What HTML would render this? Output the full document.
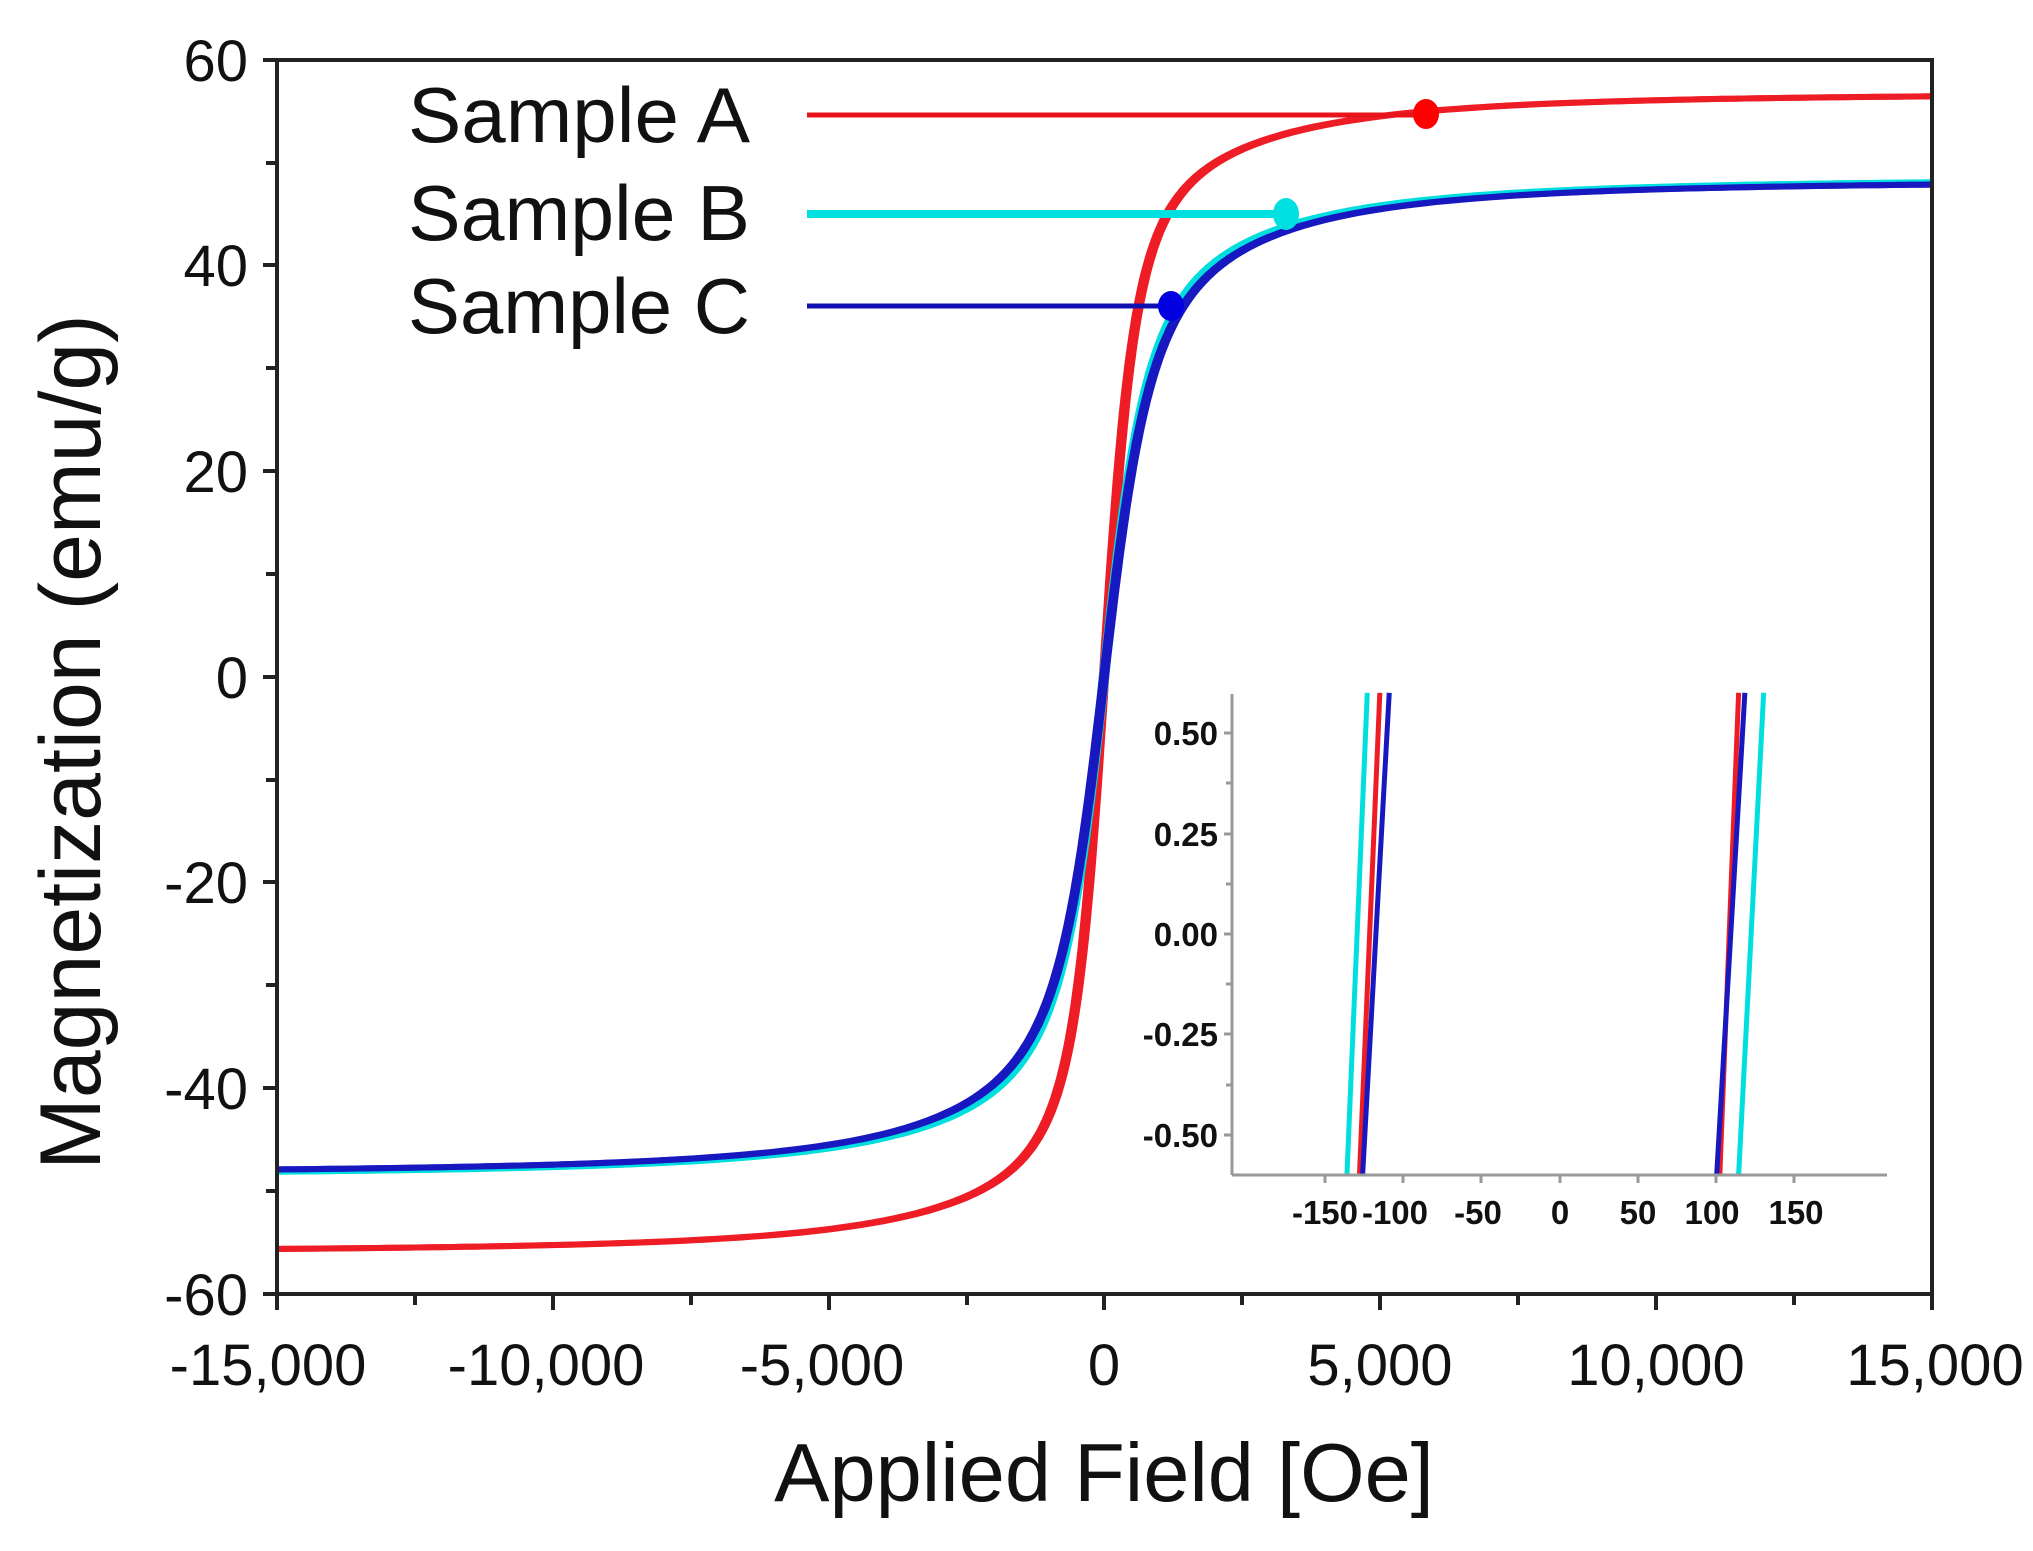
<!DOCTYPE html>
<html><head><meta charset="utf-8"><style>
html,body{margin:0;padding:0;background:#fff;}
svg{display:block;}
text{font-family:"Liberation Sans",Arial,sans-serif;fill:#111;}
</style></head><body>
<svg id="s" width="2033" height="1551" viewBox="0 0 2033 1551" xmlns="http://www.w3.org/2000/svg">
<rect width="2033" height="1551" fill="#fff"/>
<g id="curves" fill="none" stroke-width="6" stroke-linejoin="round"></g>
<rect x="277" y="60" width="1655" height="1234" fill="none" stroke="#222" stroke-width="4"/>
<g stroke="#222" stroke-width="4">
<line x1="263" y1="60" x2="277" y2="60"/><line x1="266" y1="163" x2="277" y2="163"/>
<line x1="263" y1="265" x2="277" y2="265"/><line x1="266" y1="368" x2="277" y2="368"/>
<line x1="263" y1="471" x2="277" y2="471"/><line x1="266" y1="574" x2="277" y2="574"/>
<line x1="263" y1="677" x2="277" y2="677"/><line x1="266" y1="780" x2="277" y2="780"/>
<line x1="263" y1="882" x2="277" y2="882"/><line x1="266" y1="985" x2="277" y2="985"/>
<line x1="263" y1="1088" x2="277" y2="1088"/><line x1="266" y1="1191" x2="277" y2="1191"/>
<line x1="263" y1="1294" x2="277" y2="1294"/>
<line x1="277" y1="1294" x2="277" y2="1310"/><line x1="415" y1="1294" x2="415" y2="1305"/>
<line x1="553" y1="1294" x2="553" y2="1310"/><line x1="691" y1="1294" x2="691" y2="1305"/>
<line x1="829" y1="1294" x2="829" y2="1310"/><line x1="967" y1="1294" x2="967" y2="1305"/>
<line x1="1104" y1="1294" x2="1104" y2="1310"/><line x1="1242" y1="1294" x2="1242" y2="1305"/>
<line x1="1380" y1="1294" x2="1380" y2="1310"/><line x1="1518" y1="1294" x2="1518" y2="1305"/>
<line x1="1656" y1="1294" x2="1656" y2="1310"/><line x1="1794" y1="1294" x2="1794" y2="1305"/>
<line x1="1932" y1="1294" x2="1932" y2="1310"/>
</g>
<g font-size="58" text-anchor="end">
<text x="248" y="81">60</text><text x="248" y="286">40</text><text x="248" y="492">20</text>
<text x="248" y="698">0</text><text x="248" y="903">-20</text><text x="248" y="1109">-40</text>
<text x="248" y="1315">-60</text>
</g>
<g font-size="58" text-anchor="middle">
<text x="268" y="1385">-15,000</text><text x="546" y="1385">-10,000</text><text x="822" y="1385">-5,000</text>
<text x="1104" y="1385">0</text><text x="1380" y="1385">5,000</text><text x="1656" y="1385">10,000</text>
<text x="1935" y="1385">15,000</text>
</g>
<text x="1104" y="1501" font-size="83" text-anchor="middle">Applied Field [Oe]</text>
<text transform="translate(100,742) rotate(-90)" font-size="86" text-anchor="middle">Magnetization (emu/g)</text>
<g font-size="78">
<text x="408" y="142" textLength="342" lengthAdjust="spacingAndGlyphs">Sample A</text>
<text x="408" y="240" textLength="342" lengthAdjust="spacingAndGlyphs">Sample B</text>
<text x="408" y="333" textLength="342" lengthAdjust="spacingAndGlyphs">Sample C</text>
</g>
<line x1="807" y1="115" x2="1426" y2="115" stroke="#e8141c" stroke-width="5"/>
<line x1="807" y1="214" x2="1286" y2="214" stroke="#00e0e0" stroke-width="8"/>
<line x1="807" y1="306" x2="1171" y2="306" stroke="#1010b0" stroke-width="5"/>
<ellipse cx="1426" cy="114" rx="13" ry="15" fill="#f00"/>
<ellipse cx="1286" cy="214" rx="13" ry="16" fill="#00e0e0"/>
<ellipse cx="1171" cy="306" rx="13" ry="15" fill="#0000e0"/>
<g id="inset" fill="none" stroke-width="5"></g>
<g stroke="#999" stroke-width="3">
<line x1="1232" y1="694" x2="1232" y2="1175"/><line x1="1232" y1="1175" x2="1887" y2="1175"/>
<line x1="1224" y1="733" x2="1232" y2="733"/><line x1="1226" y1="783" x2="1232" y2="783"/>
<line x1="1224" y1="834" x2="1232" y2="834"/><line x1="1226" y1="884" x2="1232" y2="884"/>
<line x1="1224" y1="934" x2="1232" y2="934"/><line x1="1226" y1="984" x2="1232" y2="984"/>
<line x1="1224" y1="1034" x2="1232" y2="1034"/><line x1="1226" y1="1085" x2="1232" y2="1085"/>
<line x1="1224" y1="1135" x2="1232" y2="1135"/>
<line x1="1325" y1="1175" x2="1325" y2="1183"/><line x1="1403" y1="1175" x2="1403" y2="1183"/>
<line x1="1481" y1="1175" x2="1481" y2="1183"/><line x1="1560" y1="1175" x2="1560" y2="1183"/>
<line x1="1638" y1="1175" x2="1638" y2="1183"/><line x1="1716" y1="1175" x2="1716" y2="1183"/>
<line x1="1794" y1="1175" x2="1794" y2="1183"/>
</g>
<g font-size="33" font-weight="bold" text-anchor="end">
<text x="1218" y="745">0.50</text><text x="1218" y="846">0.25</text><text x="1218" y="946">0.00</text>
<text x="1218" y="1046">-0.25</text><text x="1218" y="1147">-0.50</text>
</g>
<g font-size="33" font-weight="bold" text-anchor="middle">
<text x="1325" y="1224">-150</text><text x="1395" y="1224">-100</text><text x="1478" y="1224">-50</text>
<text x="1560" y="1224">0</text><text x="1638" y="1224">50</text><text x="1712" y="1224">100</text>
<text x="1796" y="1224">150</text>
</g>
<script>
(function(){
var X=function(h){return 1104+h*1655/30000;}, Y=function(m){return 677-m*1234/120;};
function f(x,a){return x/Math.sqrt(x*x+a*a);}
var sets=[
 {c:'#ee1c24',m:function(x){return 48*f(x,600)+8.8*f(x,4000);},h:40},
 {c:'#00dede',m:function(x){return 39.5*f(x,850)+9*f(x,4200);},h:40},
 {c:'#1818c0',m:function(x){return 39*f(x,900)+9.3*f(x,4200);},h:35}
];
var g=document.getElementById('curves');
sets.forEach(function(s){
 [1,-1].forEach(function(sg){
  var d='';
  for(var x=-15000;x<=15000;x+=(Math.abs(x)<3000?25:200)){
   var m=s.m(x-sg*s.h);
   if(x<0 && s.c=='#ee1c24') m*=0.985;
   d+=(d?'L':'M')+X(x).toFixed(1)+' '+Y(m).toFixed(1);
  }
  var p=document.createElementNS('http://www.w3.org/2000/svg','path');
  p.setAttribute('d',d);p.setAttribute('stroke',s.c);g.appendChild(p);
 });
});
var IX=function(v){return 1560+v*1.5667;}, IY=function(m){return 934-m*402;};
var lines=[['#00dede',-136,-123],['#ee1c24',-128,-115],['#1818c0',-126,-109],
 ['#00dede',114,130],['#ee1c24',102,114],['#1818c0',100,118]];
var gi=document.getElementById('inset');
lines.forEach(function(l){
 var p=document.createElementNS('http://www.w3.org/2000/svg','line');
 p.setAttribute('x1',IX(l[1]));p.setAttribute('y1',IY(-0.6));
 p.setAttribute('x2',IX(l[2]));p.setAttribute('y2',IY(0.6));
 p.setAttribute('stroke',l[0]);gi.appendChild(p);
});
})();
</script>
</svg>
</body></html>
